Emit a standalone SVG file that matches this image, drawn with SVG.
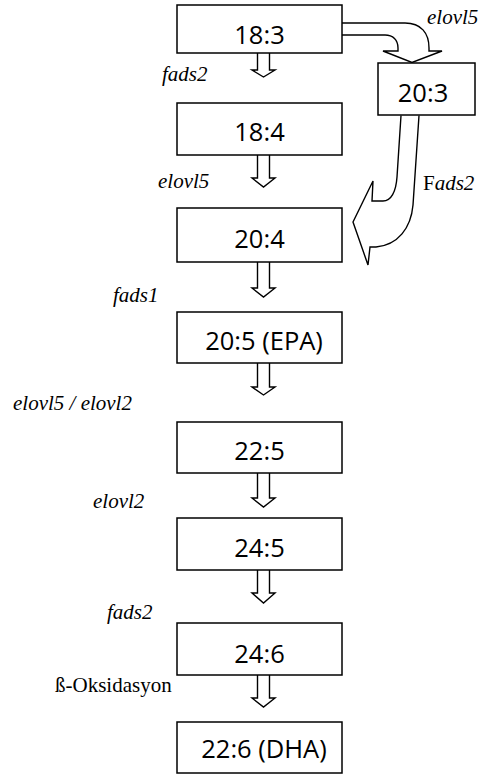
<svg xmlns="http://www.w3.org/2000/svg" width="479" height="777" viewBox="0 0 479 777">
  <style>
    .box rect { fill: #fff; stroke: #000; stroke-width: 1.5; }
    .box text { font-family: "Open Sans", "Noto Sans", sans-serif; font-size: 25.5px; fill: #000; text-anchor: middle; }
    .flow path { fill: #fff; stroke: #000; stroke-width: 1.4; stroke-linejoin: miter; }
    .enz { font-family: "Liberation Serif", "Times New Roman", serif; font-size: 21px; font-style: italic; fill: #000; }
    .up { font-style: normal; }
  </style>

  <!-- block arrows between the steps -->
  <g id="connectors" class="flow">
    <path d="M257.5,53 V70 H252 L263.5,77 L275,70 H269.5 V53"/>
    <path d="M257.5,155 V178 H252 L263.5,187 L275,178 H269.5 V155"/>
    <path d="M257.5,262 V288 H252 L263.5,297 L275,288 H269.5 V262"/>
    <path d="M257.5,363 V387 H252 L263.5,395 L275,387 H269.5 V363"/>
    <path d="M257.5,473 V498 H252 L263.5,507 L275,498 H269.5 V473"/>
    <path d="M257.5,570 V593 H252 L263.5,603 L275,593 H269.5 V570"/>
    <path d="M257.5,675 V698 H252 L263.5,707 L275,698 H269.5 V675"/>
    <!-- bent arrow 18:3 to 20:3 -->
    <path d="M342,23 H405 C421,23 429,33 429,48 V51 H442 L412,62.5 L383,51 H398 V48 C398,40 393,35 385,35 H342"/>
    <!-- curved arrow 20:3 back to 20:4 -->
    <path d="M401,115.5 L397,177 C396,192 391,201 383,201 H372 L373,181 L353,222 L368,265 L370,247 H376 C398,245 411,228 413,205 L419,115.5"/>
  </g>

  <g id="n18_3" class="box"><rect x="177" y="5" width="165" height="48"/><text x="259.5" y="44">18:3</text></g>
  <g id="n20_3" class="box"><rect x="378" y="63" width="97" height="52"/><text x="423" y="102">20:3</text></g>
  <g id="n18_4" class="box"><rect x="177" y="103" width="165" height="52"/><text x="259.5" y="141">18:4</text></g>
  <g id="n20_4" class="box"><rect x="177" y="208" width="165" height="54"/><text x="259.5" y="248">20:4</text></g>
  <g id="n20_5" class="box"><rect x="177" y="312" width="165" height="51"/><text x="264" y="350">20:5 (EPA)</text></g>
  <g id="n22_5" class="box"><rect x="177" y="422" width="165" height="51"/><text x="259.5" y="460">22:5</text></g>
  <g id="n24_5" class="box"><rect x="177" y="518" width="165" height="52"/><text x="259.5" y="557">24:5</text></g>
  <g id="n24_6" class="box"><rect x="177" y="623" width="165" height="52"/><text x="259.5" y="663">24:6</text></g>
  <g id="n22_6" class="box"><rect x="177" y="722" width="165" height="51"/><text x="264" y="758">22:6 (DHA)</text></g>

  <!-- enzyme labels -->
  <g id="labels">
    <text class="enz" x="427" y="24">elovl5</text>
    <text class="enz" x="162" y="81">fads2</text>
    <text class="enz" x="158" y="188">elovl5</text>
    <text class="enz" x="423" y="190"><tspan class="up">F</tspan>ads2</text>
    <text class="enz" x="113" y="302">fads1</text>
    <text class="enz" x="13" y="410">elovl5 / elovl2</text>
    <text class="enz" x="93" y="508">elovl2</text>
    <text class="enz" x="107" y="619">fads2</text>
    <text class="enz up" x="55" y="692">ß-Oksidasyon</text>
  </g>
</svg>
